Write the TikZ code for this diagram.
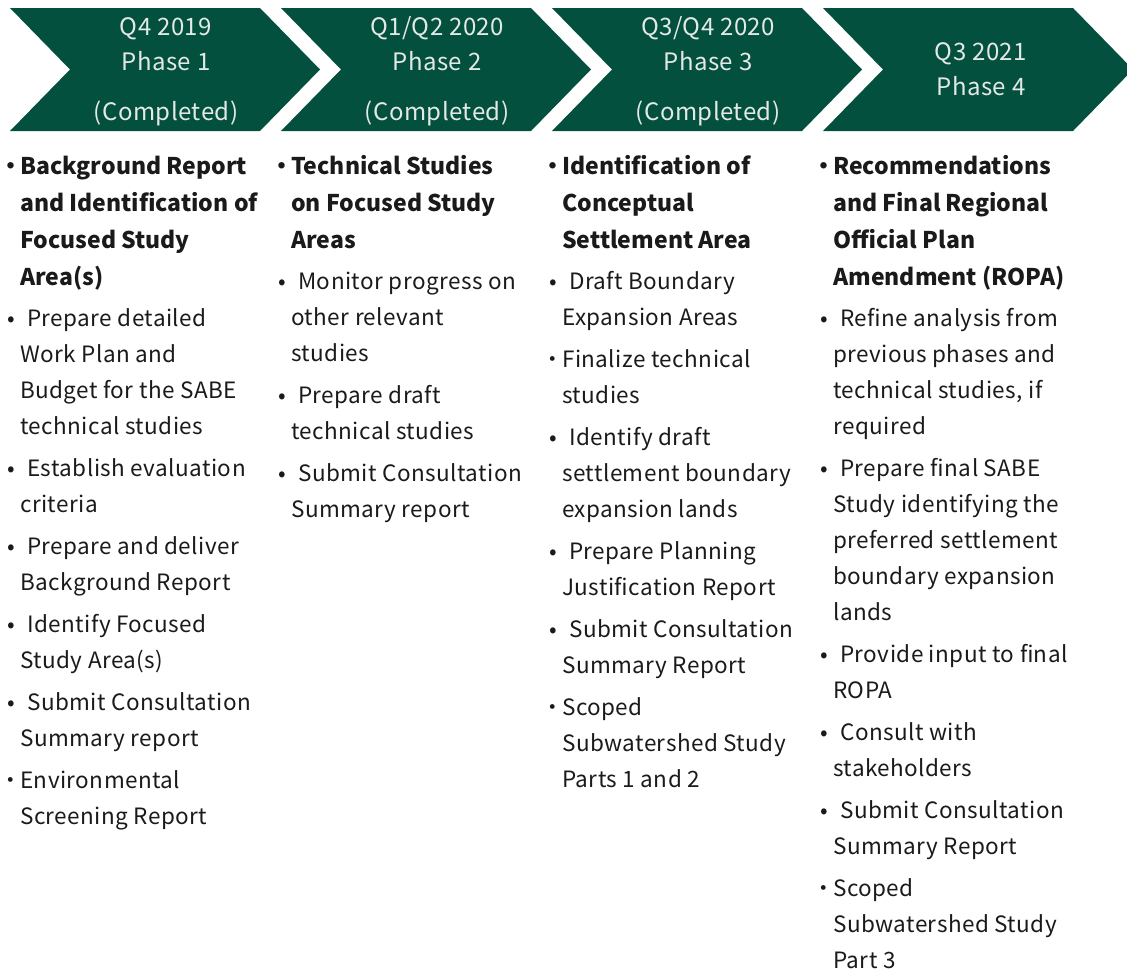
\documentclass[tikz,border=0pt]{standalone}
\usepackage{fontspec}
\setmainfont{Noto Sans CJK JP}[LetterSpace=2, BoldFeatures={LetterSpace=0}]
\definecolor{phasegreen}{HTML}{02503D}
\definecolor{phasetext}{HTML}{E4E8E6}
\definecolor{bodytext}{HTML}{1A1A1A}
\newcommand{\hb}{\hspace*{-9pt}\makebox[0pt]{・}\hspace*{9pt}}
\newcommand{\rb}{\hspace*{-9pt}\makebox[0pt]{•}\hspace*{16pt}}
\tikzset{
  chev/.style={fill=phasegreen},
  phaselabel/.style={text=phasetext, align=center, inner sep=0pt, anchor=base,
    font=\fontsize{24}{35}\selectfont},
  heading/.style={text=bodytext, align=left, inner sep=0pt, anchor=base west,
    font=\fontsize{23}{37}\selectfont\bfseries},
  items/.style={text=bodytext, align=left, inner sep=0pt, anchor=base west,
    font=\fontsize{22.5}{36}\selectfont}
}
\begin{document}
\begin{tikzpicture}[x=1pt,y=-1pt]
\useasboundingbox (0,0) rectangle (1127,972);
% chevrons
\foreach \L in {10,281,552,823}{
  \fill[chev] (\L,8) -- (\L+250,8) -- (\L+310,69.5) -- (\L+250,131) -- (\L,131) -- (\L+60,69.5) -- cycle;
}
\node[phaselabel] (p1) at (166,120) {Q4 2019\\Phase 1\\[15pt](Completed)};
\node[phaselabel] (p2) at (437,120) {Q1/Q2 2020\\Phase 2\\[15pt](Completed)};
\node[phaselabel] (p3) at (708,120) {Q3/Q4 2020\\Phase 3\\[15pt](Completed)};
\node[phaselabel] (p4) at (981,95) {Q3 2021\\Phase 4};
% column 1
\node[heading] (h1) at (20,285) {\hb Background Report\\and Identification of\\Focused Study\\Area(s)};
\node[items] (c1) at (20,824) {%
\rb Prepare detailed\\
Work Plan and\\
Budget for the SABE\\
technical studies\\[6pt]
\rb Establish evaluation\\
criteria\\[6pt]
\rb Prepare and deliver\\
Background Report\\[6pt]
\rb Identify Focused\\
Study Area(s)\\[6pt]
\rb Submit Consultation\\
Summary report\\[6pt]
\hb Environmental\\
Screening Report};
% column 2
\node[heading] (h2) at (291,248) {\hb Technical Studies\\on Focused Study\\Areas};
\node[items] (c2) at (291,517) {%
\rb Monitor progress on\\
other relevant\\
studies\\[6pt]
\rb Prepare draft\\
technical studies\\[6pt]
\rb Submit Consultation\\
Summary report};
% column 3
\node[heading] (h3) at (562,248) {\hb Identification of\\Conceptual\\Settlement Area};
\node[items] (c3) at (562,787) {%
\rb Draft Boundary\\
Expansion Areas\\[6pt]
\hb Finalize technical\\
studies\\[6pt]
\rb Identify draft\\
settlement boundary\\
expansion lands\\[6pt]
\rb Prepare Planning\\
Justification Report\\[6pt]
\rb Submit Consultation\\
Summary Report\\[6pt]
\hb Scoped\\
Subwatershed Study\\
Parts 1 and 2};
% column 4
\node[heading] (h4) at (833,285) {\hb Recommendations\\and Final Regional\\Official Plan\\Amendment (ROPA)};
\node[items] (c4) at (833,968) {%
\rb Refine analysis from\\
previous phases and\\
technical studies, if\\
required\\[6pt]
\rb Prepare final SABE\\
Study identifying the\\
preferred settlement\\
boundary expansion\\
lands\\[6pt]
\rb Provide input to final\\
ROPA\\[6pt]
\rb Consult with\\
stakeholders\\[6pt]
\rb Submit Consultation\\
Summary Report\\[6pt]
\hb Scoped\\
Subwatershed Study\\
Part 3};
\end{tikzpicture}
\end{document}
